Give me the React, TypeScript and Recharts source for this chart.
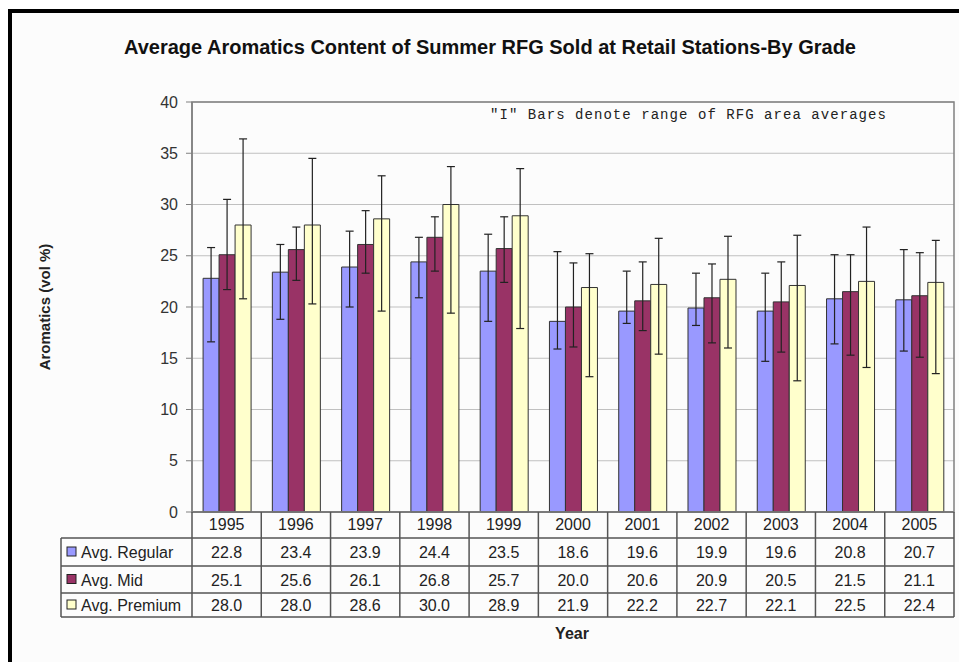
import { BarChart, Bar, XAxis, YAxis, CartesianGrid, ErrorBar } from 'recharts';

const years = ['1995', '1996', '1997', '1998', '1999', '2000', '2001', '2002', '2003', '2004', '2005'];
const regular = [22.8, 23.4, 23.9, 24.4, 23.5, 18.6, 19.6, 19.9, 19.6, 20.8, 20.7];
const mid = [25.1, 25.6, 26.1, 26.8, 25.7, 20.0, 20.6, 20.9, 20.5, 21.5, 21.1];
const premium = [28.0, 28.0, 28.6, 30.0, 28.9, 21.9, 22.2, 22.7, 22.1, 22.5, 22.4];

// range of RFG area averages ("I" bars)
const regularLow = [16.6, 18.8, 20.0, 20.9, 18.6, 15.9, 18.4, 18.2, 14.7, 16.4, 15.7];
const regularHigh = [25.8, 26.1, 27.4, 26.8, 27.1, 25.4, 23.5, 23.3, 23.3, 25.1, 25.6];
const midLow = [21.7, 22.6, 23.3, 23.5, 22.4, 16.1, 17.7, 16.5, 15.6, 15.3, 15.1];
const midHigh = [30.5, 27.8, 29.4, 28.8, 28.8, 24.3, 24.4, 24.2, 24.4, 25.1, 25.3];
const premiumLow = [20.8, 20.3, 19.6, 19.4, 17.9, 13.2, 15.4, 16.0, 12.8, 14.1, 13.5];
const premiumHigh = [36.4, 34.5, 32.8, 33.7, 33.5, 25.2, 26.7, 26.9, 27.0, 27.8, 26.5];

const yTicks = [0, 5, 10, 15, 20, 25, 30, 35, 40];

const series = [
  { key: 'regular', name: 'Avg. Regular', color: '#9999ff', values: regular },
  { key: 'mid', name: 'Avg. Mid', color: '#993366', values: mid },
  { key: 'premium', name: 'Avg. Premium', color: '#ffffcc', values: premium },
];

const data = years.map((year, i) => ({
  year,
  regular: regular[i],
  mid: mid[i],
  premium: premium[i],
  regularErr: [regular[i] - regularLow[i], regularHigh[i] - regular[i]],
  midErr: [mid[i] - midLow[i], midHigh[i] - mid[i]],
  premiumErr: [premium[i] - premiumLow[i], premiumHigh[i] - premium[i]],
}));

const W = 959;
const H = 662;
const plotLeft = 192;
const plotRight = 954;
const plotTop = 102;
const plotBottom = 512;
const xAxisH = 30;
const colW = (plotRight - plotLeft) / years.length;
const rowLines = [538, 566, 593, 617];
const tableLeft = 61;
const font = '"Liberation Sans", Arial, sans-serif';
const lineColor = '#555';

function Overlay() {
  const cols = Array.from({ length: years.length + 1 }, (_, k) => plotLeft + k * colW);
  return (
    <svg width={W} height={H} style={{ position: 'absolute', left: 0, top: 0, pointerEvents: 'none' }} fontFamily={font}>
      <text x={490} y={54} textAnchor="middle" fontSize={20} fontWeight="bold" fill="#111">
        Average Aromatics Content of Summer RFG Sold at Retail Stations-By Grade
      </text>
      <text x={490} y={119} fontSize={14} letterSpacing={1.05} fontFamily='"Liberation Mono", "Courier New", monospace' fill="#222">
        "I" Bars denote range of RFG area averages
      </text>
      <text transform="translate(50,307) rotate(-90)" textAnchor="middle" fontSize={15} fontWeight="bold" fill="#222">
        Aromatics (vol %)
      </text>
      <text x={572} y={639} textAnchor="middle" fontSize={16} fontWeight="bold" fill="#222">
        Year
      </text>
      <rect x={plotLeft} y={plotTop} width={plotRight - plotLeft} height={plotBottom - plotTop} fill="none" stroke="#808080" strokeWidth={1.5} />
      {rowLines.map((y) => (
        <line key={y} x1={tableLeft} x2={plotRight} y1={y} y2={y} stroke={lineColor} strokeWidth={1.5} />
      ))}
      <line x1={tableLeft} x2={tableLeft} y1={rowLines[0]} y2={rowLines[3]} stroke={lineColor} strokeWidth={1.5} />
      {cols.map((x, k) => (
        <line key={k} x1={x} x2={x} y1={plotBottom} y2={rowLines[3]} stroke={lineColor} strokeWidth={1.5} />
      ))}
      {series.map((s, r) => {
        const top = rowLines[r];
        const bottom = rowLines[r + 1];
        const mid = (top + bottom) / 2;
        return (
          <g key={s.key}>
            <rect x={67} y={mid - 5} width={9} height={9} fill={s.color} stroke="#222" strokeWidth={1} />
            <text x={81} y={mid + 6} fontSize={16} fill="#222">{s.name}</text>
            {s.values.map((v, i) => (
              <text key={i} x={plotLeft + (i + 0.5) * colW} y={mid + 6} textAnchor="middle" fontSize={16} fill="#222">
                {v.toFixed(1)}
              </text>
            ))}
          </g>
        );
      })}
    </svg>
  );
}

export default function App() {
  return (
    <div style={{ position: 'absolute', left: 0, top: 0, width: W, height: H, background: '#fff' }}>
      <div
        style={{
          position: 'absolute',
          left: 8,
          top: 9,
          width: W - 8,
          height: H - 9,
          background: '#fcfcfc',
          borderTop: '4px solid #000',
          borderLeft: '4px solid #000',
          boxSizing: 'border-box',
        }}
      />
      <div style={{ position: 'absolute', left: 0, top: 0 }}>
        <BarChart
          width={W}
          height={H}
          data={data}
          margin={{ top: plotTop, right: W - plotRight, bottom: H - plotBottom - xAxisH, left: plotLeft - 60 }}
          barCategoryGap="16%"
          barGap={0}
        >
          <CartesianGrid vertical={false} stroke="#c0c0c0" strokeWidth={1.2} />
          <XAxis
            dataKey="year"
            tickLine={false}
            tickSize={0}
            tickMargin={7}
            axisLine={{ stroke: '#444', strokeWidth: 1.5 }}
            tick={{ fontSize: 16, fill: '#222', fontFamily: font }}
            interval={0}
            height={xAxisH}
          />
          <YAxis
            width={60}
            domain={[0, 40]}
            ticks={yTicks}
            interval={0}
            tickSize={6}
            tickMargin={8}
            axisLine={{ stroke: '#808080', strokeWidth: 1.5 }}
            tickLine={{ stroke: '#808080' }}
            tick={{ fontSize: 16, fill: '#333', fontFamily: font }}
          />
          {series.map((s) => (
            <Bar key={s.key} dataKey={s.key} name={s.name} fill={s.color} stroke="#333" strokeWidth={1} isAnimationActive={false}>
              <ErrorBar dataKey={`${s.key}Err`} width={4} stroke="#222" strokeWidth={1.2} direction="y" />
            </Bar>
          ))}
        </BarChart>
      </div>
      <Overlay />
    </div>
  );
}
